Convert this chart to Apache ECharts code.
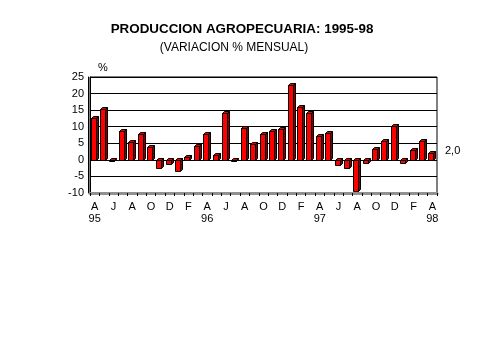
<!DOCTYPE html>
<html><head><meta charset="utf-8">
<script src="https://cdn.jsdelivr.net/npm/echarts@6/dist/echarts.min.js"></script>
<style>html,body{margin:0;padding:0;background:#fff}#c{width:479px;height:359px}</style>
</head><body><div id="c"></div>
<script>
const months = ['A','M','J','J','A','S','O','N','D','E','F','M',
                'A','M','J','J','A','S','O','N','D','E','F','M',
                'A','M','J','J','A','S','O','N','D','E','F','M','A'];
const yearLabels = {0:'95',12:'96',24:'97',36:'98'};
const values = [12.5,15.2,-0.3,8.7,5.5,7.8,4.0,-2.6,-1.1,-3.5,0.8,4.3,
                7.7,1.6,14.0,-0.3,9.5,4.9,7.8,8.8,9.4,22.5,16.0,14.0,
                7.2,8.0,-1.6,-2.6,-9.3,-0.8,3.2,5.7,10.3,-1.0,3.0,5.7,2.0];
const yTicks = [-10,-5,0,5,10,15,20,25];

const chart = echarts.init(document.getElementById('c'), null, {renderer:'canvas'});
const font = 'Liberation Sans, Arial, sans-serif';
const lastIdx = values.length - 1;

chart.setOption({
  animation:false,
  backgroundColor:'#fff',
  title:[
    {text:'PRODUCCION AGROPECUARIA: 1995-98', left:237, top:18, textAlign:'center',
     textStyle:{fontFamily:font, fontSize:13.4, fontWeight:'bold', color:'#000'}},
    {text:'(VARIACION % MENSUAL)', left:229, top:37, textAlign:'center',
     textStyle:{fontFamily:font, fontSize:12, fontWeight:'normal', color:'#000'}}
  ],
  grid:{left:90, right:42, top:77, bottom:166, show:true, borderColor:'#000', borderWidth:1},
  xAxis:{
    type:'category', data:months, boundaryGap:true,
    axisLine:{onZero:false, lineStyle:{color:'#909090', width:3}},
    axisTick:{show:true, interval:0, length:3, lineStyle:{color:'#000'}},
    axisLabel:{interval:1, margin:8, color:'#000', fontFamily:font, fontSize:11, lineHeight:12,
      formatter:function(v,i){ return yearLabels[i] ? v+'\n'+yearLabels[i] : v; }}
  },
  yAxis:[{
    type:'value', min:yTicks[0], max:yTicks[yTicks.length-1], interval:5,
    name:'%', nameLocation:'end', nameGap:4,
    nameTextStyle:{fontFamily:font, fontSize:11, color:'#000', align:'left', padding:[0,0,0,8]},
    axisLine:{show:true, lineStyle:{color:'#000'}},
    axisTick:{show:false},
    axisLabel:{color:'#000', fontFamily:font, fontSize:11, margin:6},
    splitLine:{show:true, lineStyle:{color:'#000', width:1}}
  },{
    type:'value', min:yTicks[0], max:yTicks[yTicks.length-1], interval:5, position:'left', offset:2,
    axisLine:{show:true, lineStyle:{color:'#000'}}, axisTick:{show:false}, axisLabel:{show:false}, splitLine:{show:false}
  }],
  series:[{
    type:'custom',
    data: values.map((v,i)=>[i,v]),
    renderItem:function(params, api){
      const i = api.value(0), v = api.value(1);
      const top = api.coord([i, Math.max(v,0)]);
      const bot = api.coord([i, Math.min(v,0)]);
      const cx = top[0];
      const w = 5, d = 2;
      const x0 = Math.round(cx - 4) + 0.5;
      const yt = Math.round(top[1]) + 0.5, yb = Math.round(bot[1]) + 0.5;
      const children = [
        {type:'polygon', shape:{points:[[x0+w,yt],[x0+w+d,yt-d],[x0+w+d,yb-d],[x0+w,yb]]},
         style:{fill:'#800000', stroke:'#000', lineWidth:1}},
        {type:'polygon', shape:{points:[[x0,yt],[x0+d,yt-d],[x0+w+d,yt-d],[x0+w,yt]]},
         style:{fill:'#e00000', stroke:'#000', lineWidth:1}},
        {type:'rect', shape:{x:x0, y:yt, width:w, height:Math.max(yb-yt,1)},
         style:{fill:'#ff0000', stroke:'#000', lineWidth:1}}
      ];
      if (params.dataIndex === lastIdx) {
        const cs = params.coordSys;
        const p = api.coord([i, v]);
        children.push({type:'text', x: cs.x + cs.width + 8, y: p[1] - 2,
          style:{text: v.toFixed(1).replace('.',','), fontFamily:font, fontSize:11, fill:'#000',
                 verticalAlign:'middle', align:'left'}});
      }
      return {type:'group', children:children};
    }
  }]
});
</script></body></html>
